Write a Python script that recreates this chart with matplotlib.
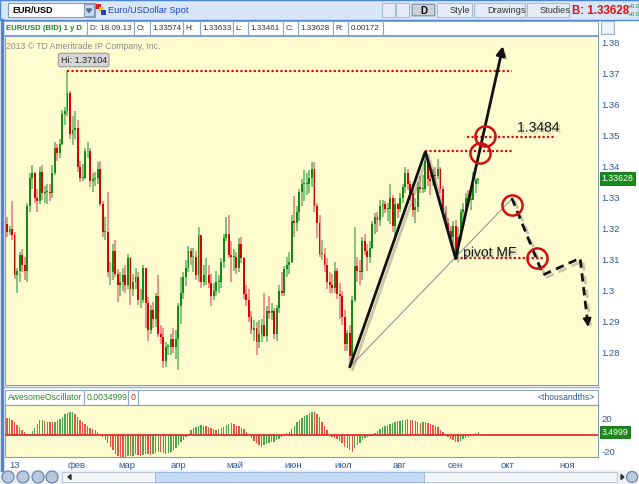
import matplotlib
matplotlib.use('Agg')
import matplotlib.pyplot as plt
import matplotlib.patheffects as pe
from matplotlib.patches import Rectangle, FancyBboxPatch, Polygon
import numpy as np
import pandas as pd

plt.rcParams['font.family'] = ['Liberation Sans', 'DejaVu Sans']

W, H = 639, 484

# EUR/USD daily bid candles, 28.12.2012 .. 18.09.2013 (open = previous close)
first_open = 1.3225
closes = [
    1.3215, 1.3190,
    1.3200, 1.3180, 1.3050, 1.3065, 1.3115, 1.3085, 1.3065, 1.3275, 1.3365, 1.3380, 1.3300, 1.3290,
    1.3385, 1.3315, 1.3320, 1.3320, 1.3315, 1.3380, 1.3460, 1.3445, 1.3475, 1.3570, 1.3580,
    1.3640, 1.3505, 1.3520, 1.3525, 1.3400, 1.3365, 1.3365, 1.3450, 1.3450, 1.3355, 1.3360, 1.3365,
    1.3395, 1.3280, 1.3190, 1.3190, 1.3060, 1.3060, 1.3130, 1.3055,
    1.3020, 1.3030, 1.3050, 1.3020, 1.3105, 1.3005, 1.3030, 1.3045, 1.2970, 1.2970, 1.3075, 1.2960,
    1.2875, 1.2940, 1.2910, 1.2985, 1.2860, 1.2850, 1.2775, 1.2820, 1.2820,
    1.2845, 1.2820, 1.2845, 1.2950, 1.2995, 1.3045, 1.3075, 1.3130, 1.3110, 1.3110, 1.3050, 1.3180,
    1.3030, 1.3050, 1.3050, 1.3025, 1.2985, 1.3000, 1.3030, 1.3030, 1.3095, 1.3170,
    1.3185, 1.3115, 1.3110, 1.3110, 1.3075, 1.3150, 1.3105, 1.2990, 1.2970, 1.2915, 1.2875, 1.2880,
    1.2835, 1.2860, 1.2890, 1.2855, 1.2935, 1.2930, 1.2935, 1.2860, 1.2945, 1.3000, 1.2995,
    1.3070, 1.3085, 1.3095, 1.3225, 1.3220, 1.3255, 1.3320, 1.3345, 1.3345, 1.3345, 1.3365, 1.3395,
    1.3275, 1.3220, 1.3120, 1.3120, 1.3085, 1.3030, 1.3020, 1.3010,
    1.3065, 1.2990, 1.2985, 1.2915, 1.2830, 1.2865, 1.2790, 1.2970, 1.3080, 1.3065, 1.3060, 1.3160,
    1.3130, 1.3110, 1.3140, 1.3215, 1.3240, 1.3230, 1.3275, 1.3280, 1.3265, 1.3265, 1.3300,
    1.3210, 1.3280, 1.3265, 1.3300, 1.3335, 1.3380, 1.3345, 1.3315, 1.3260, 1.3270, 1.3335, 1.3330,
    1.3330, 1.3420, 1.3360, 1.3355, 1.3375, 1.3370, 1.3395, 1.3330, 1.3255, 1.3220,
    1.3195, 1.3175, 1.3210, 1.3120, 1.3175, 1.3255, 1.3265, 1.3300, 1.3295, 1.3295, 1.3345, 1.3357,
    1.33628,
]
highs = [
    1.3255, 1.3240,
    1.3210, 1.3290, 1.3190, 1.3075, 1.3125, 1.3135, 1.3110, 1.3285, 1.3380, 1.3405, 1.3385, 1.3330,
    1.3400, 1.3405, 1.3340, 1.3345, 1.3345, 1.3405, 1.3480, 1.3475, 1.3490, 1.3585, 1.3595,
    1.3710, 1.3645, 1.3565, 1.3580, 1.3550, 1.3420, 1.3410, 1.3460, 1.3480, 1.3460, 1.3380, 1.3385,
    1.3415, 1.3420, 1.3290, 1.3240, 1.3320, 1.3095, 1.3150, 1.3165,
    1.3070, 1.3060, 1.3075, 1.3085, 1.3120, 1.3110, 1.3055, 1.3075, 1.3060, 1.3005, 1.3085, 1.3020,
    1.2980, 1.2955, 1.2965, 1.2995, 1.3050, 1.2890, 1.2880, 1.2835, 1.2830,
    1.2860, 1.2880, 1.2875, 1.2960, 1.3045, 1.3060, 1.3100, 1.3145, 1.3140, 1.3140, 1.3130, 1.3205,
    1.3180, 1.3085, 1.3105, 1.3085, 1.3055, 1.3025, 1.3065, 1.3050, 1.3105, 1.3185,
    1.3240, 1.3245, 1.3160, 1.3135, 1.3125, 1.3170, 1.3175, 1.3110, 1.3020, 1.3005, 1.2935, 1.2905,
    1.2900, 1.2905, 1.2910, 1.2995, 1.2950, 1.2985, 1.2960, 1.2945, 1.2955, 1.3020, 1.3060,
    1.3080, 1.3110, 1.3125, 1.3245, 1.3305, 1.3275, 1.3330, 1.3360, 1.3390, 1.3380, 1.3390, 1.3415,
    1.3415, 1.3285, 1.3245, 1.3165, 1.3140, 1.3105, 1.3060, 1.3055,
    1.3095, 1.3075, 1.3025, 1.3000, 1.2940, 1.2875, 1.2890, 1.2985, 1.3205, 1.3110, 1.3100, 1.3175,
    1.3185, 1.3150, 1.3160, 1.3225, 1.3250, 1.3255, 1.3295, 1.3295, 1.3290, 1.3285, 1.3345,
    1.3310, 1.3300, 1.3285, 1.3315, 1.3345, 1.3400, 1.3395, 1.3355, 1.3330, 1.3300, 1.3350, 1.3370,
    1.3375, 1.3450, 1.3425, 1.3375, 1.3395, 1.3400, 1.3425, 1.3400, 1.3340, 1.3275,
    1.3235, 1.3210, 1.3225, 1.3230, 1.3205, 1.3265, 1.3285, 1.3315, 1.3325, 1.3315, 1.3385, 1.3365,
    1.33633,
]
lows = [
    1.3205, 1.3175,
    1.3180, 1.3165, 1.3040, 1.2995, 1.3030, 1.3060, 1.3035, 1.3030, 1.3255, 1.3330, 1.3285, 1.3255,
    1.3280, 1.3295, 1.3285, 1.3280, 1.3290, 1.3300, 1.3375, 1.3420, 1.3430, 1.3470, 1.3535,
    1.3565, 1.3490, 1.3470, 1.3490, 1.3385, 1.3350, 1.3355, 1.3360, 1.3430, 1.3335, 1.3320, 1.3340,
    1.3345, 1.3275, 1.3175, 1.3165, 1.3045, 1.3020, 1.3035, 1.3045,
    1.2965, 1.2985, 1.3000, 1.2995, 1.3005, 1.2955, 1.2985, 1.3005, 1.2955, 1.2945, 1.2960, 1.2880,
    1.2840, 1.2860, 1.2880, 1.2885, 1.2850, 1.2830, 1.2750, 1.2755, 1.2795,
    1.2795, 1.2800, 1.2780, 1.2745, 1.2895, 1.2975, 1.3015, 1.3060, 1.3085, 1.3060, 1.3035, 1.3030,
    1.3010, 1.3015, 1.3020, 1.3010, 1.2950, 1.2970, 1.2985, 1.2995, 1.3010, 1.3075,
    1.3160, 1.3105, 1.3030, 1.3065, 1.3055, 1.3060, 1.3090, 1.2975, 1.2950, 1.2900, 1.2860, 1.2840,
    1.2795, 1.2815, 1.2835, 1.2850, 1.2835, 1.2910, 1.2905, 1.2845, 1.2840, 1.2930, 1.2985,
    1.2985, 1.3045, 1.3055, 1.3090, 1.3175, 1.3195, 1.3225, 1.3275, 1.3290, 1.3310, 1.3315, 1.3335,
    1.3255, 1.3170, 1.3110, 1.3100, 1.3060, 1.3005, 1.2995, 1.2995,
    1.2995, 1.2975, 1.2910, 1.2890, 1.2805, 1.2805, 1.2755, 1.2770, 1.2965, 1.3030, 1.3020, 1.3035,
    1.3115, 1.3065, 1.3090, 1.3135, 1.3185, 1.3190, 1.3210, 1.3240, 1.3250, 1.3225, 1.3215,
    1.3190, 1.3160, 1.3235, 1.3255, 1.3285, 1.3315, 1.3325, 1.3295, 1.3240, 1.3220, 1.3255, 1.3315,
    1.3315, 1.3320, 1.3340, 1.3310, 1.3340, 1.3350, 1.3360, 1.3315, 1.3235, 1.3205,
    1.3185, 1.3150, 1.3150, 1.3105, 1.3110, 1.3165, 1.3225, 1.3250, 1.3270, 1.3260, 1.3300, 1.3315,
    1.33461,
]
# Awesome Oscillator, thousandths
ao_values = [
    21.0, 20.5,
    19.5, 17.5, 14.8, 11.7, 9.4, 6.2, 3.1, 1.2, 0.8, 4.7, 8.6, 13.3, 17.2, 18.0, 16.4, 15.6, 15.2,
    14.8, 15.6, 17.2, 19.1, 21.5, 24.2,
    25.7, 26.9, 27.3, 25.0, 21.0, 18.0, 14.8, 12.5, 10.5, 8.6, 7.0, 5.5, 3.1, 0.8, -2.3, -5.5,
    -9.8, -14.0, -18.0, -21.8,
    -24.6, -25.7, -26.5, -25.4, -24.2, -25.0, -24.2, -22.6, -23.4, -24.2, -23.0, -21.8, -22.6,
    -23.4, -22.2, -20.7, -19.5, -20.3, -21.5, -22.2, -21.5,
    -19.9, -18.0, -14.8, -11.7, -8.6, -5.5, -2.3, 1.6, 5.5, 7.8, 9.75, 10.9, 11.3, 10.9, 10.5, 9.4,
    8.2, 7.0, 6.2, 6.6, 8.2, 9.75,
    11.7, 13.3, 14.0, 12.9, 10.9, 10.0, 8.6, 7.0, 3.9, 0.4, -3.5, -7.0, -9.4, -11.3, -14.0, -12.0,
    -10.9, -9.75, -8.6, -7.8, -6.2, -4.7, -2.3,
    0.2, 2.0, 3.9, 7.4, 10.9, 14.8, 17.5, 20.3, 21.8, 23.4, 25.4, 27.3, 26.5, 24.2, 20.7, 15.6,
    10.5, 5.5, 0.4, -2.0,
    -3.1, -4.7, -7.0, -9.75, -13.7, -15.6, -17.5, -19.5, -15.6, -12.0, -9.0, -6.2, -3.9, -2.0,
    -0.8, 0.8, 2.3, 5.0, 7.4, 9.4, 10.9, 12.0, 13.3,
    14.0, 15.2, 16.0, 16.4, 17.2, 17.5, 18.3, 18.0, 17.2, 16.0, 15.2, 14.4, 14.8, 15.6, 14.0, 13.3,
    12.0, 10.9, 9.0, 5.9, 3.1, 0.1,
    -2.3, -4.3, -6.2, -7.8, -8.6, -7.0, -5.0, -3.5, -2.3, -0.8, 0.8, 2.3, 3.5,
]

month_labels = ['13', 'фев', 'мар', 'апр', 'май', 'июн', 'июл', 'авг', 'сен', 'окт', 'ноя']
price_ticks = [1.28, 1.29, 1.30, 1.31, 1.32, 1.33, 1.34, 1.35, 1.36, 1.37, 1.38]
ao_ticks = [20, -20]

# hand-drawn study objects (x in trading days from 01.01.2013, y in price)
hi_level = 1.3710
aug_level = 1.3453
target_level = 1.3497
pivot_level = 1.3106
zigzag = [(135, 1.2755), (165, 1.3450), (177, 1.3105)]
zigzag_tip = (195.8, 1.3790)
guide = [(135, 1.2755), (199.3, 1.3297)]
forecast = [(199.3, 1.3300), (211.7, 1.3052), (226.4, 1.3106), (229.6, 1.2884)]
circles = [(188.7, 1.3500), (186.7, 1.3446), (199.3, 1.3277), (209.2, 1.3106)]

all_days = pd.bdate_range('2012-12-28', '2013-11-29')
pos0 = all_days.get_loc(pd.Timestamp('2013-01-01'))
n = len(closes)
assert n == len(highs) == len(lows) == len(ao_values)
xs = np.arange(n) - pos0
month_pos = [int(np.searchsorted(all_days, pd.Timestamp(2013, m, 1))) - pos0 for m in range(1, 12)]

c = np.array(closes)
o = np.concatenate([[first_open], c[:-1]])
hi = np.array(highs)
lo = np.array(lows)
up = c >= o

XLIM = (-1.79, 233.5)
BG = '#fffdd0'
AXBLUE = '#2c5aa0'
SPINE = '#7d9cc8'


def frect(x0, y0, x1, y1):
    return [x0 / W, 1 - y1 / H, (x1 - x0) / W, (y1 - y0) / H]


fig = plt.figure(figsize=(W / 100, H / 100), dpi=100)

# ---- chrome (toolbars, headers, scrollbar) in pixel coords ----
ch = fig.add_axes([0, 0, 1, 1], zorder=0)
ch.set_xlim(0, W)
ch.set_ylim(H, 0)
ch.axis('off')


def box(x0, y0, x1, y1, fc='white', ec='#9db0c8', lw=0.8):
    ch.add_patch(Rectangle((x0, y0), x1 - x0, y1 - y0, fc=fc, ec=ec, lw=lw))


box(0, 0, W, 20, '#d9e6f6', '#4f86d0', 1.0)
box(8, 3, 95, 17, 'white', '#7f9db9')
ch.text(12, 10.5, 'EUR/USD', fontsize=6.5, fontweight='bold', va='center')
box(84, 4, 94, 16, '#c8d8ee', '#7f9db9')
ch.add_patch(Polygon([(86.5, 9), (91.5, 9), (89, 12.5)], color='#4a6a95'))
box(96, 4, 101, 9, '#e02020', 'none')
box(99, 7, 104, 12, '#f0d000', 'none')
box(101, 10, 106, 15, '#2040c0', 'none')
ch.text(108, 10.5, 'Euro/USDollar Spot', fontsize=6.6, color='#1a44c8', va='center')
box(382, 3, 395, 17, '#e4ecf7', '#a8bcd8')
box(396, 3, 409, 17, '#e4ecf7', '#a8bcd8')
ch.add_patch(FancyBboxPatch((413, 5), 21, 10, boxstyle='round,pad=0.8',
                            fc='#c9d1dc', ec='#7a8aa0', lw=0.8))
ch.text(423.5, 10.5, 'D', fontsize=7, fontweight='bold', ha='center', va='center')
for x0, x1, label in [(437, 472, 'Style'), (474, 525, 'Drawings'), (527, 569, 'Studies')]:
    box(x0, 3, x1, 17, '#e4ecf7', '#a8bcd8')
    ch.text(x0 + 13, 10.5, label, fontsize=6.6, color='#333333', va='center')
ch.text(572, 11, 'B: 1.33628', fontsize=8.3, fontweight='bold', color='#e01010', va='center')
ch.text(628, 6, '+0.0', fontsize=4.5, color='#1a8a1a', va='center')
ch.text(628, 14, '+0.0', fontsize=4.5, color='#1a8a1a', va='center')

info = [(3, 87, 'EUR/USD (BID) 1 y D'), (87, 134, 'D: 18.09.13'), (134, 150, 'O:'),
        (150, 183, '1.33574'), (183, 200, 'H:'), (200, 233, '1.33633'), (233, 248, 'L:'),
        (248, 283, '1.33461'), (283, 298, 'C:'), (298, 333, '1.33628'), (333, 348, 'R:'),
        (348, 383, '0.00172'), (383, 598, '')]
for k, (x0, x1, label) in enumerate(info):
    box(x0, 21, x1, 35, 'white', '#8fa6c4')
    if k == 0:
        ch.text(x0 + 3, 28, label, fontsize=5.6, fontweight='bold', color='#1b8a1b', va='center')
    else:
        ch.text(x0 + 2.5, 28, label, fontsize=5.8, color='#333333', va='center')
box(601, 21, 614, 34, '#eef3fa', '#9db0c8')
ch.plot([2, 2], [20, 470], color='#4d86d6', lw=2.5)
ch.plot([4, 599], [386.5, 386.5], color='#9db0c8', lw=1.0)

ao_head = [(5, 84, 'AwesomeOscillator', '#2a8a2a'), (84, 128, '0.0034999', '#2a8a2a'),
           (128, 138, '0', '#e02020'), (138, 598, '', 'k')]
for x0, x1, label, col in ao_head:
    box(x0, 390, x1, 405, 'white', '#8fa6c4')
    ch.text(x0 + 2.5, 397.5, label, fontsize=6.2, color=col, va='center')
ch.text(595, 397.5, '<thousandths>', fontsize=6.2, color=AXBLUE, va='center', ha='right')

box(0, 470, W, 484, '#eef2f8', 'none')
for cx in [8, 23, 38, 52]:
    ch.add_patch(plt.Circle((cx, 477), 6, fc='#b9c9dd', ec='#6080a8', lw=0.8))
box(62, 472, 617, 482, '#f4f6fa', '#c0c8d8')
box(155, 472, 424, 482, '#c6dcf6', '#a0bce0')
ch.add_patch(Polygon([(68, 477), (71, 474.5), (71, 479.5)], color='#333333'))
ch.add_patch(Polygon([(624, 477), (621, 474.5), (621, 479.5)], color='#333333'))
ch.add_patch(plt.Circle((632, 477), 5.5, fc='#b9c9dd', ec='#6080a8', lw=0.8))

# ---- price panel ----
ax = fig.add_axes(frect(5, 36, 598, 385), zorder=2)
ax.set_facecolor(BG)
ax.set_xlim(*XLIM)
ax.set_ylim(1.269677, 1.382258)
ax.set_xticks([])
ax.yaxis.tick_right()
ax.set_yticks(price_ticks)
ax.set_yticklabels([f'{v:g}' for v in price_ticks])
ax.tick_params(axis='y', length=0, pad=2.5, labelsize=6.8, labelcolor=AXBLUE)
for s in ax.spines.values():
    s.set_color(SPINE)

wick_col = np.where(up, '#6cbc6c', '#ee8080')
body_col = np.where(up, '#138a13', '#e00000')
ax.vlines(xs, lo, hi, colors=wick_col, lw=1.2, zorder=2)
ax.bar(xs, np.maximum(np.abs(c - o), 0.00025), bottom=np.minimum(o, c), width=0.75,
       color=body_col, zorder=3)

ax.text(1 / 593, 1 - 10.7 / 349, '2013 \u00a9 TD Ameritrade IP Company, Inc.',
        transform=ax.transAxes, fontsize=6.2, color='#8a8a8a', va='center')
ax.text(29.4, 1.3745, 'Hi: 1.37104', ha='center', va='center', fontsize=6.5, color='#222222',
        bbox=dict(boxstyle='round,pad=0.25', fc='#d6d6d6', ec='#9a9a9a', lw=0.8), zorder=6)

dot = dict(color='#d01010', lw=1.6, ls=(0, (1, 1)), zorder=5)
ax.hlines(hi_level, 23, 199.4, **dot)
ax.hlines(aug_level, 165, 199.8, **dot)
ax.hlines(target_level, 181.5, 216.5, **dot)
ax.hlines(pivot_level, 177, 211.7, **dot)

shadow = [pe.SimpleLineShadow(offset=(2, -2), shadow_color='#606060', alpha=0.35), pe.Normal()]
gx, gy = zip(*guide)
ax.plot(gx, gy, color='#8a8a8a', lw=0.7, zorder=6)
zx, zy = zip(*zigzag)
ax.plot(zx, zy, color='#111111', lw=2.0, zorder=7, path_effects=shadow,
        solid_capstyle='round', solid_joinstyle='miter')
arr = ax.annotate('', xy=zigzag_tip, xytext=zigzag[-1],
                  arrowprops=dict(arrowstyle='-|>', lw=2.0, color='#111111', mutation_scale=13,
                                  shrinkA=0, shrinkB=0), zorder=7)
arr.arrow_patch.set_path_effects([pe.SimplePatchShadow(offset=(2, -2), alpha=0.3), pe.Normal()])

fx, fy = zip(*forecast)
ax.plot(fx, fy, color='#111111', lw=2.0, ls=(0, (3, 2)), zorder=7, path_effects=shadow)
p1, p2 = np.array(forecast[-2]), np.array(forecast[-1])
ax.annotate('', xy=tuple(p2), xytext=tuple(p2 - 0.12 * (p2 - p1)),
            arrowprops=dict(arrowstyle='-|>', lw=1.5, color='#111111', mutation_scale=12,
                            shrinkA=0, shrinkB=0), zorder=7)

cx, cy = zip(*circles)
ax.plot(cx, cy, 'o', ms=14.5, mfc='none', mec='#cc1111', mew=1.8, zorder=8)

txt_fx = [pe.withSimplePatchShadow(offset=(1.5, -1.5), shadow_rgbFace='#808080', alpha=0.35)]
ax.text(180, 1.3111, 'pivot MF', fontsize=10, color='#111111', va='baseline', zorder=9,
        path_effects=txt_fx)
ax.text(201.4, 1.3514, '1.3484', fontsize=10, color='#111111', va='baseline', zorder=9,
        path_effects=txt_fx)

ax.text(1.006, c[-1], '1.33628', transform=ax.get_yaxis_transform(), fontsize=6.3,
        color='white', va='center', ha='left', zorder=10,
        bbox=dict(boxstyle='square,pad=0.2', fc='#1a8a1a', ec='#0f6a0f', lw=0.6))

# ---- Awesome Oscillator panel ----
ax2 = fig.add_axes(frect(5, 405, 598, 457), zorder=2)
ax2.set_facecolor(BG)
ax2.set_xlim(*XLIM)
ax2.set_ylim(-25.9, 35.3)
ao = np.array(ao_values)
rising = np.concatenate([[False], ao[1:] >= ao[:-1]])
ax2.bar(xs, ao, width=0.55, color=np.where(rising, '#4aa84a', '#e8553f'), zorder=2)
ax2.axhline(0, color='#e02020', lw=1.2, zorder=3)
ax2.yaxis.tick_right()
ax2.set_yticks(ao_ticks)
ax2.set_yticklabels([str(v) for v in ao_ticks])
ax2.tick_params(axis='y', length=0, pad=2.5, labelsize=6.8, labelcolor=AXBLUE)
ax2.set_xticks(month_pos)
ax2.set_xticklabels(month_labels, ha='left')
ax2.tick_params(axis='x', length=0, pad=3, labelsize=6.8, labelcolor=AXBLUE)
for s in ax2.spines.values():
    s.set_color(SPINE)
ax2.text(1.006, ao[-1], '3.4999', transform=ax2.get_yaxis_transform(), fontsize=6.3,
         color='white', va='center', ha='left', zorder=10,
         bbox=dict(boxstyle='square,pad=0.2', fc='#1a8a1a', ec='#0f6a0f', lw=0.6))

fig.savefig('out.png', dpi=100)
